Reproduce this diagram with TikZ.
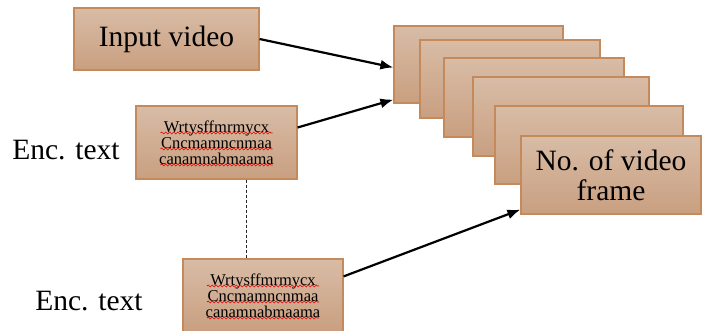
\documentclass[tikz,border=0pt]{standalone}
\usepackage{fontspec}
\setmainfont{Liberation Serif}
\usetikzlibrary{arrows.meta,calc,decorations.pathmorphing}
\definecolor{tanTop}{RGB}{216,188,166}
\definecolor{tanBot}{RGB}{201,159,128}
\definecolor{tanEdge}{RGB}{196,138,92}
\tikzset{
  tanbox/.style={draw=tanEdge, line width=1.2pt, top color=tanTop, bottom color=tanBot,
    rectangle, inner sep=0pt, align=center},
  bigtext/.style={font=\fontsize{29.5}{30}\selectfont},
  ciphertext/.style={font=\fontsize{16.5}{16}\selectfont},
  flow/.style={line width=2.2pt, -{Latex[length=13pt,width=10pt]}},
  link/.style={line width=1.1pt, dash pattern=on 3pt off 2pt, black!85},
  wave/.style={red!90!black, line width=0.7pt,
    decorate, decoration={snake, segment length=4pt, amplitude=1pt}}
}
\begin{document}
\begin{tikzpicture}[x=1pt,y=-1pt]
\useasboundingbox (0,0) rectangle (702,331);
\clip (0,0) rectangle (702,331);
% stacked video frames, back to front
\node[tanbox, minimum width=169pt, minimum height=77pt] (f1) at (478.5,64.5) {};
\node[tanbox, minimum width=180pt, minimum height=78pt] (f2) at (510,79) {};
\node[tanbox, minimum width=180pt, minimum height=79pt] (f3) at (534,97.5) {};
\node[tanbox, minimum width=176pt, minimum height=79pt] (f4) at (561,116.5) {};
\node[tanbox, minimum width=188pt, minimum height=78pt] (f5) at (589,145) {};
\node[tanbox, bigtext, minimum width=180pt, minimum height=78pt] (f6) at (611,175) {No. of video\\frame};
% inputs
\node[tanbox, bigtext, minimum width=185pt, minimum height=62pt] (invid) at (166.5,39) {Input video};
\node[tanbox, ciphertext, minimum width=161pt, minimum height=73pt] (enc1) at (216.5,142.5)
  {Wrtysffmrmycx\\Cncmamncnmaa\\canamnabmaama};
\node[tanbox, ciphertext, minimum width=160pt, minimum height=73pt] (enc2) at (263,295.5)
  {Wrtysffmrmycx\\Cncmamncnmaa\\canamnabmaama};
% spell-check waves under the cipher lines
\foreach \b in {enc1,enc2}
  \foreach \dy in {-9.5,6.5,22.5}
    \draw[wave] ($(\b.center)+(-56,\dy)$) -- ++(112,0);
% labels
\node[bigtext, inner sep=0pt] (lab1) at (66,150) {Enc. text};
\node[bigtext, inner sep=0pt] (lab2) at (89,301) {Enc. text};
% connectors
\draw[flow] (invid.east) -- ([yshift=-3pt]f1.west);
\draw[flow] ([yshift=15pt]enc1.east) -- ([yshift=4pt]f1.south west);
\draw[flow] ([yshift=-18pt]enc2.north east) -- ([yshift=5pt]f6.south west);
\draw[link] ([xshift=30pt]enc1.south) -- ([xshift=30pt]enc1.south |- enc2.north);
\end{tikzpicture}
\end{document}
